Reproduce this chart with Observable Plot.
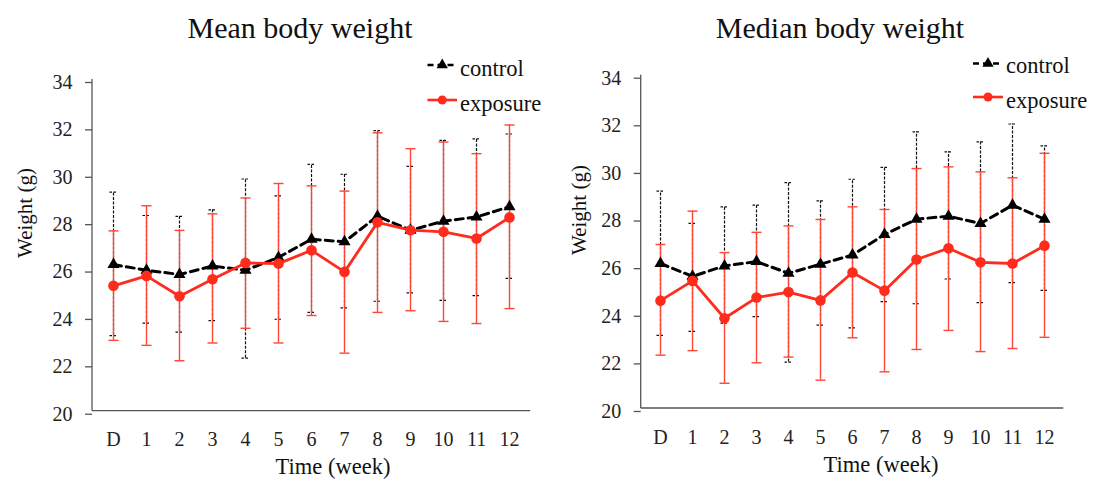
<!DOCTYPE html>
<html><head><meta charset="utf-8">
<script src="https://cdn.jsdelivr.net/npm/d3@7"></script>
<script src="https://cdn.jsdelivr.net/npm/@observablehq/plot@0.6"></script>
<style>
body{margin:0;background:#fff;}
#wrap{position:relative;width:1098px;height:483px;background:#fff;overflow:hidden;}
#wrap > svg{position:absolute;top:0;}
#wrap svg, #wrap svg text{font-family:"Liberation Serif","Times New Roman",serif !important;}
</style></head><body><div id="wrap"></div>
<script>
const weeks = ["D","1","2","3","4","5","6","7","8","9","10","11","12"];
const yTicks = [20,22,24,26,28,30,32,34];

const meanControl    = [26.19,25.95,25.77,26.13,25.95,26.49,27.26,27.15,28.23,27.64,28.02,28.20,28.63];
const meanControlHi  = [29.25,28.26,28.22,28.50,29.80,29.09,30.42,30.00,31.84,30.33,31.43,31.49,31.70];
const meanControlLo  = [23.19,23.72,23.34,23.82,22.24,23.88,24.17,24.36,24.64,24.99,24.68,24.88,25.61];
const meanExposure   = [25.29,25.71,24.85,25.57,26.26,26.23,26.79,25.88,27.97,27.64,27.57,27.29,28.18];
const meanExposureHi = [27.61,28.67,27.63,28.33,29.00,29.61,29.51,29.29,31.75,31.08,31.36,30.87,32.08];
const meanExposureLo = [22.99,22.78,22.13,22.88,23.50,22.88,24.04,22.45,24.17,24.24,23.79,23.70,24.33];

const medianControl    = [26.09,25.55,25.99,26.17,25.68,26.06,26.45,27.31,27.95,28.08,27.77,28.54,27.95];
const medianControlHi  = [29.13,27.78,28.47,28.54,29.49,28.72,29.63,30.13,31.62,30.78,31.20,31.95,31.03];
const medianControlLo  = [23.07,23.24,23.59,23.86,21.95,23.50,23.39,24.49,24.40,25.44,24.45,25.29,24.96];
const medianExposure   = [24.53,25.36,23.79,24.66,24.89,24.54,25.71,24.95,26.26,26.73,26.14,26.09,26.84];
const medianExposureHi = [26.89,28.29,26.55,27.40,27.67,27.94,28.47,28.36,30.08,30.15,29.94,29.69,30.72];
const medianExposureLo = [22.24,22.43,21.06,21.92,22.16,21.19,22.97,21.54,22.48,23.28,22.39,22.52,22.99];

const RED = "#ff2b1c";
const RED_BAR = "#ff4536";
const FONT = "Liberation Serif, Times New Roman, serif";

// horizontal cap symbol for error bars
const capSymbol = {draw(ctx, size){ const w = Math.sqrt(size/Math.PI); ctx.moveTo(-w,0); ctx.lineTo(w,0); }};

const panels = [
  {left:0, title:"Mean body weight", titleX:300, ylabX:25, ylabY:213, xlabX:333, xlabY:474,
   ml:92, mr:18.8, mt:79, mb:72.3,
   c:meanControl, cHi:meanControlHi, cLo:meanControlLo, e:meanExposure, eHi:meanExposureHi, eLo:meanExposureLo,
   leg:{x1:427.5, x2:457, cy:65, ey:100, tx:460, cty:76, ety:111}},
  {left:549, title:"Median body weight", titleX:840, ylabX:579, ylabY:210, xlabX:881, xlabY:472,
   ml:91.7, mr:34.7, mt:74.7, mb:75,
   c:medianControl, cHi:medianControlHi, cLo:medianControlLo, e:medianExposure, eHi:medianExposureHi, eLo:medianExposureLo,
   leg:{x1:973, x2:1003, cy:63.5, ey:97, tx:1006, cty:73, ety:108}}
];

const wrap = document.getElementById("wrap");

for (const p of panels) {
  const control = weeks.map((w,i)=>({week:w, v:p.c[i], hi:p.cHi[i], lo:p.cLo[i]}));
  const exposure = weeks.map((w,i)=>({week:w, v:p.e[i], hi:p.eHi[i], lo:p.eLo[i]}));
  const chart = Plot.plot({
    width:549, height:483,
    marginLeft:p.ml, marginRight:p.mr, marginTop:p.mt, marginBottom:p.mb,
    style:{fontFamily:FONT, fontSize:"20px", color:"#222", background:"transparent", overflow:"visible"},
    x:{type:"point", domain:weeks, padding:0.5, label:null},
    y:{domain:[20,34], label:null},
    marks:[
      Plot.axisY({ticks:yTicks, tickSize:7, tickPadding:13, dy:3, stroke:"#555", strokeWidth:1.3, label:null, fontSize:20, fontFamily:FONT, fill:"#222"}),
      Plot.axisX({tickSize:0, tickPadding:21, label:null, fontSize:20, fontFamily:FONT, fill:"#222"}),
      Plot.ruleX(control,{x:"week", y1:"lo", y2:"hi", stroke:"#111", strokeWidth:1.2, strokeDasharray:"3,1.5"}),
      Plot.dot(control,{x:"week", y:"hi", symbol:capSymbol, r:4, stroke:"#111", strokeWidth:1.2, strokeDasharray:"2.5,1.5"}),
      Plot.dot(control,{x:"week", y:"lo", symbol:capSymbol, r:4, stroke:"#111", strokeWidth:1.2, strokeDasharray:"2.5,1.5"}),
      Plot.ruleX(exposure,{x:"week", y1:"lo", y2:"hi", stroke:RED_BAR, strokeWidth:1.4}),
      Plot.dot(exposure,{x:"week", y:"hi", symbol:capSymbol, r:5, stroke:RED_BAR, strokeWidth:1.4}),
      Plot.dot(exposure,{x:"week", y:"lo", symbol:capSymbol, r:5, stroke:RED_BAR, strokeWidth:1.4}),
      Plot.line(control,{x:"week", y:"v", stroke:"#000", strokeWidth:3, strokeDasharray:"8,5"}),
      Plot.dot(control,{x:"week", y:"v", symbol:"triangle", r:4.5, fill:"#000"}),
      Plot.line(exposure,{x:"week", y:"v", stroke:RED, strokeWidth:2.8}),
      Plot.dot(exposure,{x:"week", y:"v", r:5.3, fill:RED})
    ]
  });
  chart.style.left = p.left + "px";
  // axis lines from the library's scale ranges
  const yr = chart.scale("y").range;
  const xs = d3.select(chart);
  const x0 = p.ml, x1 = 549 - p.mr;
  xs.append("line").attr("x1",x0).attr("x2",x0).attr("y1",yr[0]).attr("y2",yr[1]).attr("stroke","#555").attr("stroke-width",1.3);
  xs.append("line").attr("x1",x0).attr("x2",x1).attr("y1",yr[0]).attr("y2",yr[0]).attr("stroke","#555").attr("stroke-width",1.3);
  wrap.appendChild(chart);
}

// overlay: titles, axis labels, legends
const ov = d3.select(wrap).append("svg").attr("width",1098).attr("height",483)
  .style("left","0px").style("font-family",FONT).style("fill","#111");
for (const p of panels) {
  ov.append("text").attr("x",p.titleX).attr("y",37.5).attr("text-anchor","middle").attr("font-size",30).text(p.title);
  ov.append("text").attr("transform",`translate(${p.ylabX},${p.ylabY}) rotate(-90)`).attr("text-anchor","middle")
    .attr("dy","0.35em").attr("font-size",21).text("Weight (g)");
  ov.append("text").attr("x",p.xlabX).attr("y",p.xlabY).attr("text-anchor","middle").attr("font-size",22.5).text("Time (week)");
  const L = p.leg, mid = (L.x1+L.x2)/2;
  ov.append("line").attr("x1",L.x1).attr("x2",L.x2).attr("y1",L.cy).attr("y2",L.cy).attr("stroke","#000").attr("stroke-width",2.5).attr("stroke-dasharray","6,4");
  ov.append("path").attr("d",d3.symbol(d3.symbolTriangle, 55)()).attr("transform",`translate(${mid},${L.cy})`).attr("fill","#000");
  ov.append("text").attr("x",L.tx).attr("y",L.cty).attr("font-size",22.5).text("control");
  ov.append("line").attr("x1",L.x1).attr("x2",L.x2).attr("y1",L.ey).attr("y2",L.ey).attr("stroke",RED).attr("stroke-width",2.6);
  ov.append("circle").attr("cx",mid).attr("cy",L.ey).attr("r",4.5).attr("fill",RED);
  ov.append("text").attr("x",L.tx).attr("y",L.ety).attr("font-size",22.5).text("exposure");
}
</script></body></html>
